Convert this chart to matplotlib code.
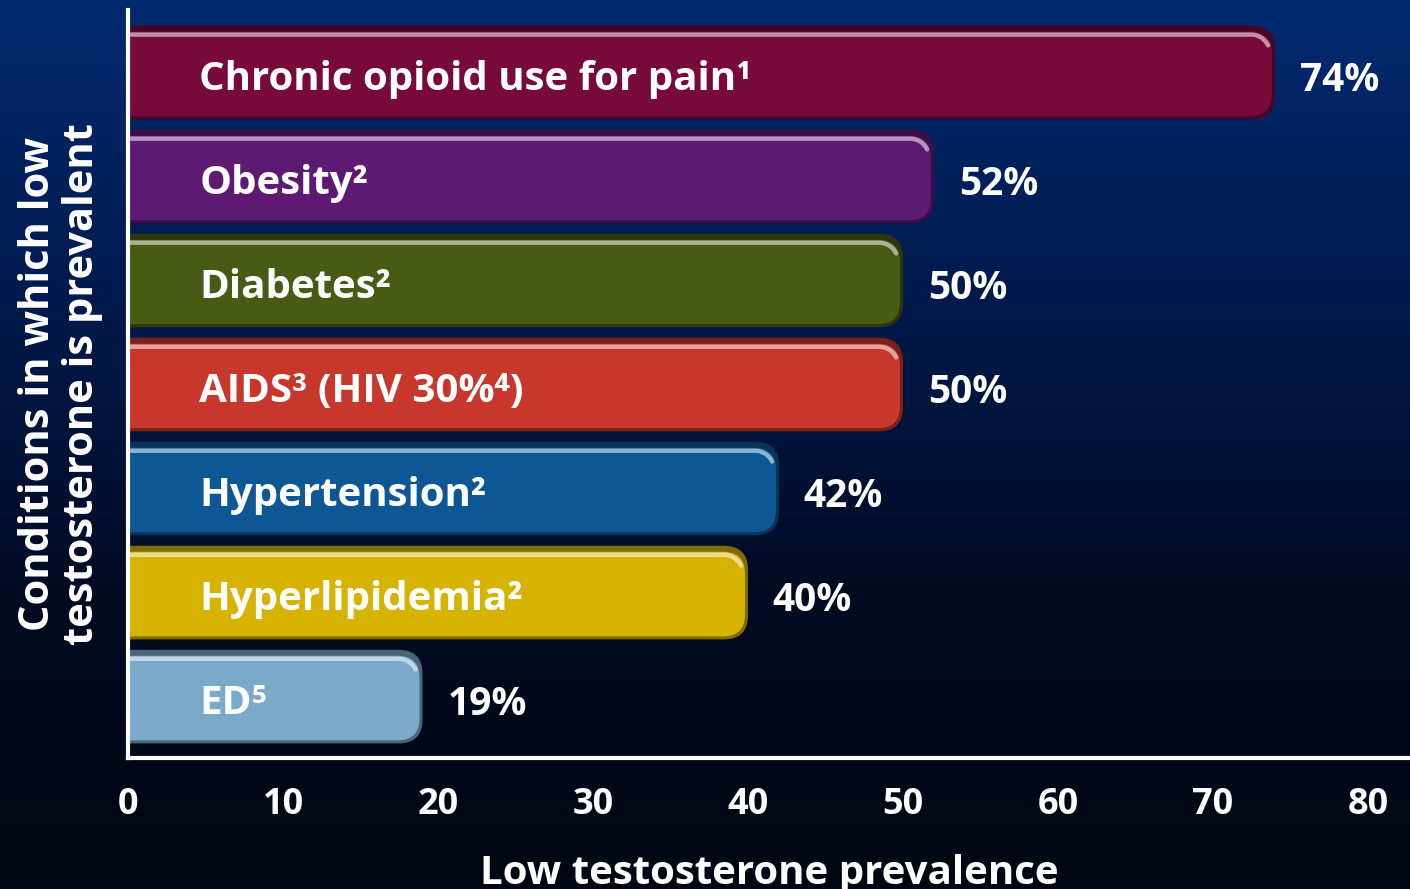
import numpy as np
import matplotlib
matplotlib.use("Agg")
import matplotlib.pyplot as plt
from matplotlib.patches import FancyBboxPatch
from matplotlib.colors import LinearSegmentedColormap, to_rgb

plt.rcParams['font.family'] = ['Open Sans', 'DejaVu Sans']

# conditions, bottom to top
conditions = ["ED\u2075", "Hyperlipidemia\u00b2", "Hypertension\u00b2",
              "AIDS\u00b3 (HIV 30%\u2074)", "Diabetes\u00b2", "Obesity\u00b2",
              "Chronic opioid use for pain\u00b9"]
prevalence = [19, 40, 42, 50, 50, 52, 74]
bar_colors = ["#7aa9c9", "#d6b300", "#0d5795", "#c8372c",
              "#485a13", "#5e1a73", "#770a3b"]
xticks = [0, 10, 20, 30, 40, 50, 60, 70, 80]

W, H = 1410, 889
fig = plt.figure(figsize=(W / 100, H / 100), dpi=100)

# navy-to-black backdrop over the whole figure
bg = fig.add_axes([0, 0, 1, 1], zorder=-10)
bg_cmap = LinearSegmentedColormap.from_list(
    "bg", ["#000611", "#000b22", "#011a4d", "#022a70"])
grad = np.linspace(0, 1, 256).reshape(-1, 1)
bg.imshow(grad, cmap=bg_cmap, aspect="auto", origin="lower",
          extent=[0, 1, 0, 1])
bg.axis("off")

ax = fig.add_axes([128 / W, 131 / H, (W - 128) / W, 748 / H])
ax.patch.set_alpha(0)
xmax = (W - 128) / 15.5
ymin, ymax = -0.59, 6.6
ax.set_xlim(0, xmax)
ax.set_ylim(ymin, ymax)

# data units per pixel, so the rounded ends stay circular
px_x = xmax / (W - 128)
px_y = (ymax - ymin) / 748
aspect = px_y / px_x

bh = 0.9
r_px = 24
for i, (lab, val, col) in enumerate(zip(conditions, prevalence, bar_colors)):
    base = np.array(to_rgb(col))
    dark = base * 0.6
    light = base + (1 - base) * 0.6
    top = i + bh / 2
    # dark rim / shadow
    ax.add_patch(FancyBboxPatch((-3, i - bh / 2), val + 3, bh,
                                boxstyle=f"round,pad=0,rounding_size={r_px * px_x}",
                                mutation_aspect=aspect, fc=dark, ec="none",
                                zorder=2))
    # body
    ax.add_patch(FancyBboxPatch((-3, i - bh / 2 + 3 * px_y),
                                val + 3 - 3 * px_x, bh - 9 * px_y,
                                boxstyle=f"round,pad=0,rounding_size={(r_px - 2) * px_x}",
                                mutation_aspect=aspect, fc=base, ec="none",
                                zorder=3))
    # glossy highlight running along the top and round the corner
    hy = top - 9 * px_y
    rr = r_px - 5
    cx = val - 5 * px_x - rr * px_x
    cy = hy - rr * px_y
    t = np.linspace(np.pi / 2, np.pi / 7, 20)
    gx = np.concatenate([[0.2], cx + rr * np.cos(t) * px_x])
    gy = np.concatenate([[hy], cy + rr * np.sin(t) * px_y])
    ax.plot(gx, gy, color=light, lw=3.2, solid_capstyle="round",
            alpha=0.9, zorder=4)
    ax.text(4.6, i - 0.17, lab, color="white", fontsize=29, fontweight="bold",
            va="baseline", ha="left", zorder=5)
    ax.text(val + 1.6, i - 0.18, f"{val}%", color="white", fontsize=28,
            fontweight="bold", va="baseline", ha="left", zorder=5)

for side in ["top", "right"]:
    ax.spines[side].set_visible(False)
for side in ["left", "bottom"]:
    ax.spines[side].set_color("white")
    ax.spines[side].set_linewidth(3)
    ax.spines[side].set_zorder(6)

ax.set_yticks([])
ax.set_xticks(xticks)
ax.set_xticklabels([str(t) for t in xticks])
ax.tick_params(axis="x", length=0, pad=21, labelsize=26, labelcolor="white")
for t in ax.get_xticklabels():
    t.set_fontweight("bold")

ax.set_xlabel("Low testosterone prevalence", color="white", fontsize=29,
              fontweight="bold", labelpad=22)
ax.set_ylabel("Conditions in which low\ntestosterone is prevalent",
              color="white", fontsize=30, fontweight="bold",
              labelpad=18, linespacing=1.1)

fig.savefig("out.png", dpi=100)
